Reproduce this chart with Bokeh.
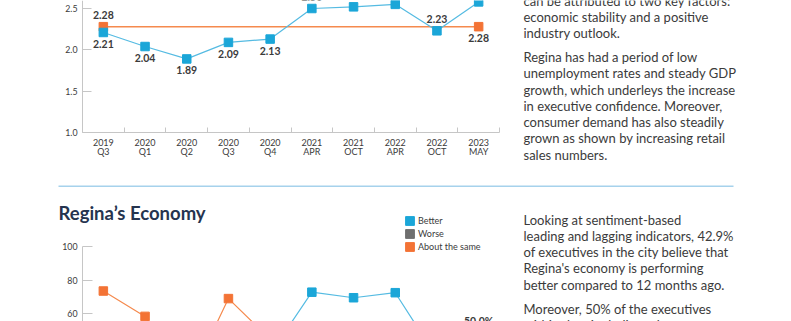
from bokeh.plotting import figure
from bokeh.models import (Range1d, FixedTicker, LinearAxis, PrintfTickFormatter,
                          Legend, LegendItem, ColumnDataSource, Grid)
from bokeh.core.properties import value
from bokeh.embed import file_html
from bokeh.resources import INLINE

# ---------------- data ----------------
periods = ["2019\nQ3", "2020\nQ1", "2020\nQ2", "2020\nQ3", "2020\nQ4",
           "2021\nAPR", "2021\nOCT", "2022\nAPR", "2022\nOCT", "2023\nMAY"]
confidence = [2.21, 2.04, 1.89, 2.09, 2.13, 2.50, 2.52, 2.55, 2.23, 2.58]
confidence_label_side = ["below", "below", "below", "below", "below",
                         "above", "above", "above", "above", "above"]
benchmark_periods = ["2019\nQ3", "2023\nMAY"]
benchmark = [2.28, 2.28]
benchmark_label_side = ["above", "below"]
confidence_ticks = [1.0, 1.5, 2.0, 2.5]

economy_series = ["Better", "Worse", "About the same"]
better = [22.0, 25.0, 35.0, 14.0, 36.0, 72.8, 69.5, 72.5, 33.8, 42.9]
worse = [4.5, 16.6, 48.0, 17.0, 19.2, 2.2, 5.5, 3.1, 40.0, 7.1]
same = [73.5, 58.4, 17.0, 69.0, 44.8, 25.0, 25.0, 24.4, 26.2, 50.0]
economy_ticks = [0, 20, 40, 60, 80, 100]

top_paragraphs = [
    ["can be attributed to two key factors:",
     "economic stability and a positive",
     "industry outlook."],
    ["Regina has had a period of low",
     "unemployment rates and steady GDP",
     "growth, which underleys the increase",
     "in executive confidence. Moreover,",
     "consumer demand has also steadily",
     "grown as shown by increasing retail",
     "sales numbers."],
]
bottom_paragraphs = [
    ["Looking at sentiment-based",
     "leading and lagging indicators, 42.9%",
     "of executives in the city believe that",
     "Regina's economy is performing",
     "better compared to 12 months ago."],
    ["Moreover, 50% of the executives",
     "within the city believe the economy"],
]
section_title = "Regina\u2019s Economy"

# ---------------- layout / style constants (page pixels) ----------------
FONT = "Lato"
BLUE = "#1ba6d8"
BLUE_LINE = "#55bbe2"
ORANGE = "#f37335"
ORANGE_LINE = "#f58a4e"
GRAY = "#6f6f6f"
TEXT = "#3b3b3b"
AXIS = "#c6c6c6"
TITLE = "#25344f"
RULE = "#a6d2ec"
W, H = 791, 321
PLOT_L, PLOT_R = 82.0, 499.0          # chart frame edges
TOP_BASE, TOP_REF = 132.0, 8.0        # pixel rows of 1.0 and 2.5
BOT_REF, BOT_PX_PER_UNIT = 246.0, 1.68  # pixel row of 100 and scale
LINE_H = 16.25
PARA_GAP = 24.0
TEXT_X = 523.0

n_slots = len(periods)
slot_w = (PLOT_R - PLOT_L) / n_slots
slot_center = {p: i + 0.5 for i, p in enumerate(periods)}

# ranges: the frame fills the whole canvas
x_slots = Range1d(-PLOT_L / slot_w, (W - PLOT_L) / slot_w)
y_page = Range1d(H, 0)
top_ppu = (TOP_BASE - TOP_REF) / (confidence_ticks[-1] - confidence_ticks[0])
y_conf = Range1d(1.0 - (H - TOP_BASE) / top_ppu, 1.0 + TOP_BASE / top_ppu)
y_econ = Range1d(100 - (H - BOT_REF) / BOT_PX_PER_UNIT, 100 + BOT_REF / BOT_PX_PER_UNIT)

p = figure(width=W, height=H, x_range=x_slots, y_range=y_page,
           output_backend="svg", toolbar_location=None,
           min_border=0, min_border_left=0, min_border_right=0,
           min_border_top=0, min_border_bottom=0,
           x_axis_location=None, y_axis_location=None)
p.extra_x_ranges = {"px": Range1d(0, W)}
p.extra_y_ranges = {"conf": y_conf, "econ": y_econ}
p.outline_line_color = None
p.background_fill_color = "white"
p.border_fill_color = "white"


def style_y(ax, tick_in):
    ax.axis_line_color = AXIS
    ax.major_tick_line_color = AXIS
    ax.major_tick_in = tick_in
    ax.major_tick_out = 0
    ax.minor_tick_in = 0
    ax.minor_tick_out = 0
    ax.minor_tick_line_color = None
    ax.major_label_text_font = FONT
    ax.major_label_text_font_size = "8.8px"
    ax.major_label_text_color = TEXT
    ax.major_label_standoff = 5


# ---------------- top chart axes ----------------
yax = LinearAxis(y_range_name="conf", fixed_location=0,
                 bounds=(confidence_ticks[0], y_conf.end),
                 ticker=FixedTicker(ticks=confidence_ticks),
                 formatter=PrintfTickFormatter(format="%.1f"))
style_y(yax, 9)
p.add_layout(yax, "left")

xax = LinearAxis(y_range_name="conf", fixed_location=confidence_ticks[0],
                 bounds=(0, n_slots),
                 ticker=FixedTicker(ticks=[slot_center[q] for q in periods],
                                    minor_ticks=list(range(n_slots + 1))),
                 major_label_overrides={slot_center[q]: q for q in periods})
xax.axis_line_color = AXIS
xax.major_tick_line_color = None
xax.major_tick_in = 0
xax.major_tick_out = 0
xax.minor_tick_line_color = AXIS
xax.minor_tick_in = 5
xax.minor_tick_out = 0
xax.major_label_text_font = FONT
xax.major_label_text_font_size = "9px"
xax.major_label_text_color = TEXT
xax.major_label_text_line_height = 0.85
xax.major_label_standoff = 4
p.add_layout(xax, "below")


def offsets(sides, d):
    return [-d if s == "above" else d for s in sides]


bench_src = ColumnDataSource(dict(x=[slot_center[q] for q in benchmark_periods], y=benchmark,
                                  t=["%.2f" % v for v in benchmark],
                                  off=offsets(benchmark_label_side, 11.5)))
conf_src = ColumnDataSource(dict(x=[slot_center[q] for q in periods], y=confidence,
                                 t=["%.2f" % v for v in confidence],
                                 off=offsets(confidence_label_side, 11.5)))

p.line("x", "y", source=bench_src, y_range_name="conf", line_color=ORANGE_LINE, line_width=1.4)
p.line("x", "y", source=conf_src, y_range_name="conf", line_color=BLUE_LINE, line_width=1.2)
p.scatter("x", "y", source=bench_src, y_range_name="conf", marker="square", size=8.5,
          fill_color=ORANGE, line_color=ORANGE)
p.scatter("x", "y", source=conf_src, y_range_name="conf", marker="square", size=8.5,
          fill_color=BLUE, line_color=BLUE)
for src in (bench_src, conf_src):
    p.text("x", "y", text="t", y_offset="off", source=src, y_range_name="conf",
           text_font=value(FONT), text_font_style="bold", text_font_size="10.5px",
           text_color=TEXT, text_align="center", text_baseline="middle")

# ---------------- bottom chart ----------------
yax2 = LinearAxis(y_range_name="econ", fixed_location=0, bounds=(0, 100),
                  ticker=FixedTicker(ticks=economy_ticks))
style_y(yax2, 10)
p.add_layout(yax2, "left")

colors = [BLUE, GRAY, ORANGE]
line_colors = [BLUE_LINE, "#8a8a8a", ORANGE_LINE]
legend_items = []
xs = [slot_center[q] for q in periods]
for name, vals, col, lcol in zip(economy_series, [better, worse, same], colors, line_colors):
    src = ColumnDataSource(dict(x=xs, y=vals))
    p.line("x", "y", source=src, y_range_name="econ", line_color=lcol, line_width=1.2)
    p.scatter("x", "y", source=src, y_range_name="econ", marker="square", size=8.5,
              fill_color=col, line_color=col)
    last = ColumnDataSource(dict(x=[xs[-1]], y=[vals[-1]], t=["%.1f%%" % vals[-1]]))
    p.text("x", "y", text="t", source=last, y_range_name="econ", y_offset=-10,
           text_font=value(FONT), text_font_style="bold", text_font_size="10.5px",
           text_color=TEXT, text_align="center", text_baseline="middle")
    # legend swatch glyph, kept outside the visible canvas
    sw = p.quad(left=[-30], right=[-20], top=[-30], bottom=[-20], x_range_name="px",
                fill_color=col, line_color=col)
    legend_items.append(LegendItem(label=name, renderers=[sw]))

legend = Legend(items=legend_items, location=(404, H - 251.5), orientation="vertical",
                glyph_width=11, glyph_height=11, label_height=11, label_width=20,
                label_standoff=3, spacing=2, padding=0, margin=0,
                border_line_color=None, background_fill_alpha=0,
                label_text_font=FONT, label_text_font_size="9px",
                label_text_color=TEXT)
p.add_layout(legend)

# ---------------- page text ----------------
def paragraph_rows(paragraphs, first_y):
    xs_, ys_, ts_ = [], [], []
    y = first_y
    for para in paragraphs:
        for line in para:
            xs_.append(TEXT_X)
            ys_.append(y)
            ts_.append(line)
            y += LINE_H
        y += PARA_GAP - LINE_H
    return xs_, ys_, ts_


for paras, y0 in ((top_paragraphs, 0.2), (bottom_paragraphs, 219.0)):
    tx, ty, tt = paragraph_rows(paras, y0)
    p.text(x=tx, y=ty, text=tt, x_range_name="px",
           text_font=value(FONT), text_font_size="13px", text_color=TEXT,
           text_align="left", text_baseline="middle")

p.text(x=[58], y=[212.7], text=[section_title], x_range_name="px",
       text_font=value(FONT), text_font_style="bold", text_font_size="18.5px",
       text_color=TITLE, text_align="left", text_baseline="middle")

p.segment(x0=[58], y0=[185.8], x1=[733], y1=[185.8], x_range_name="px",
          line_color=RULE, line_width=1.6)

for r in p.center:
    if isinstance(r, Grid):
        r.visible = False

open("out.html", "w").write(file_html(p, INLINE))
